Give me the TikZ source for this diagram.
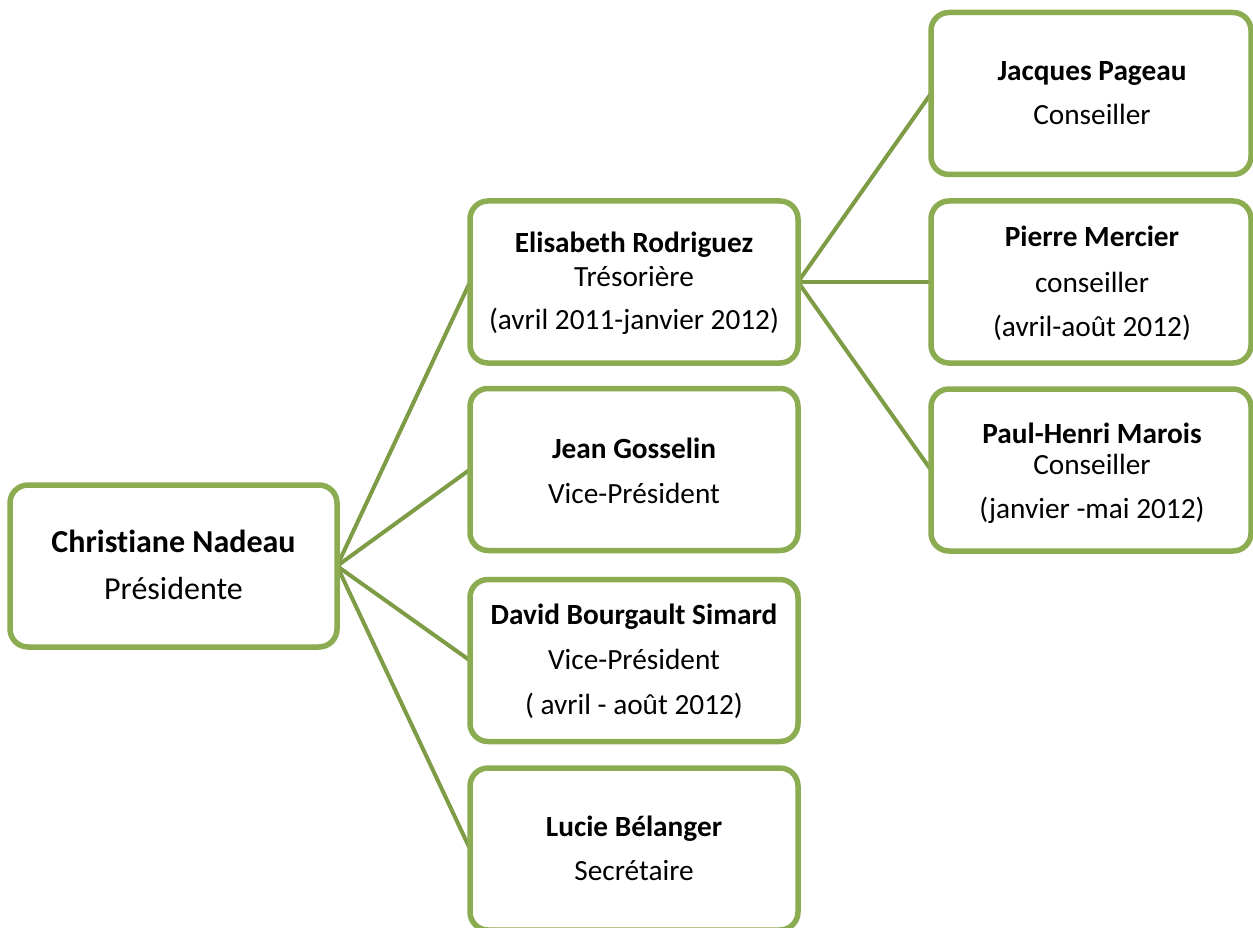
\documentclass[tikz,border=0pt]{standalone}
\usepackage{fontspec}
\setmainfont{Carlito}[Ligatures=NoCommon]
\definecolor{boxgreen}{HTML}{8CAC52}
\definecolor{linegreen}{HTML}{7E9C46}
\begin{document}
\begin{tikzpicture}[x=1pt,y=-1pt,
  box/.style={draw=boxgreen, line width=5.5pt, rounded corners=18pt, fill=white,
    inner sep=0pt, outer sep=0pt, minimum height=162pt},
  boxl/.style={box, minimum width=327pt},
  boxm/.style={box, minimum width=328pt},
  boxr/.style={box, minimum width=320pt},
  ghost/.style={draw=none, fill=none},
  link/.style={draw=linegreen, line width=4pt},
  txt/.style={anchor=base, inner sep=0pt, text=black, font=\fontsize{29.3}{34}\selectfont},
  btxt/.style={txt, font=\fontsize{29.3}{34}\selectfont\bfseries},
  bigtxt/.style={txt, font=\fontsize{32}{38}\selectfont},
  bigbtxt/.style={txt, font=\fontsize{32}{38}\selectfont\bfseries}]
\useasboundingbox (0,0) rectangle (1253,928);
% box positions
\coordinate (pcn) at (173.5,566);
\coordinate (per) at (634,282);
\coordinate (pjg) at (634,469.5);
\coordinate (pdb) at (634,660.5);
\coordinate (plb) at (634,849);
\coordinate (pjp) at (1091,93.5);
\coordinate (ppm) at (1091,282);
\coordinate (pph) at (1091,470);
% invisible twins for the connectors (drawn below the boxes)
\node[boxl, ghost] (cn0) at (pcn) {};
\node[boxm, ghost] (er0) at (per) {};
\node[boxm, ghost] (jg0) at (pjg) {};
\node[boxm, ghost] (db0) at (pdb) {};
\node[boxm, ghost] (lb0) at (plb) {};
\node[boxr, ghost] (jp0) at (pjp) {};
\node[boxr, ghost] (pm0) at (ppm) {};
\node[boxr, ghost] (ph0) at (pph) {};
\draw[link] (cn0.east) -- (er0.west);
\draw[link] (cn0.east) -- (jg0.west);
\draw[link] (cn0.east) -- (db0.west);
\draw[link] (cn0.east) -- (lb0.west);
\draw[link] (er0.east) -- (jp0.west);
\draw[link] (er0.east) -- (pm0.west);
\draw[link] (er0.east) -- (ph0.west);
% boxes
\node[boxl] (cn) at (pcn) {};
\node[boxm] (er) at (per) {};
\node[boxm] (jg) at (pjg) {};
\node[boxm] (db) at (pdb) {};
\node[boxm] (lb) at (plb) {};
\node[boxr] (jp) at (pjp) {};
\node[boxr] (pm) at (ppm) {};
\node[boxr] (ph) at (pph) {};
% texts
\node[bigbtxt] (cn1) at (173.5,552) {Christiane Nadeau};
\node[bigtxt] (cn2) at (173.5,599) {Présidente};
\node[btxt] (er1) at (634,253) {Elisabeth Rodriguez};
\node[txt] (er2) at (634,286) {Trésorière};
\node[txt] (er3) at (634,329) {(avril 2011-janvier 2012)};
\node[btxt] (jg1) at (634,458) {Jean Gosselin};
\node[txt] (jg2) at (634,503) {Vice-Président};
\node[btxt] (db1) at (634,624) {David Bourgault Simard};
\node[txt] (db2) at (634,669) {Vice-Président};
\node[txt] (db3) at (634,714) {( avril - août 2012)};
\node[btxt] (lb1) at (634,836) {Lucie Bélanger};
\node[txt] (lb2) at (634,880) {Secrétaire};
\node[btxt] (jp1) at (1092,81) {Jacques Pageau};
\node[txt] (jp2) at (1092,125) {Conseiller};
\node[btxt] (pm1) at (1092,247) {Pierre Mercier};
\node[txt] (pm2) at (1092,292) {conseiller};
\node[txt] (pm3) at (1092,336) {(avril-août 2012)};
\node[btxt] (ph1) at (1092,443) {Paul-Henri Marois};
\node[txt] (ph2) at (1092,474) {Conseiller};
\node[txt] (ph3) at (1092,518) {(janvier -mai 2012)};
\end{tikzpicture}
\end{document}
